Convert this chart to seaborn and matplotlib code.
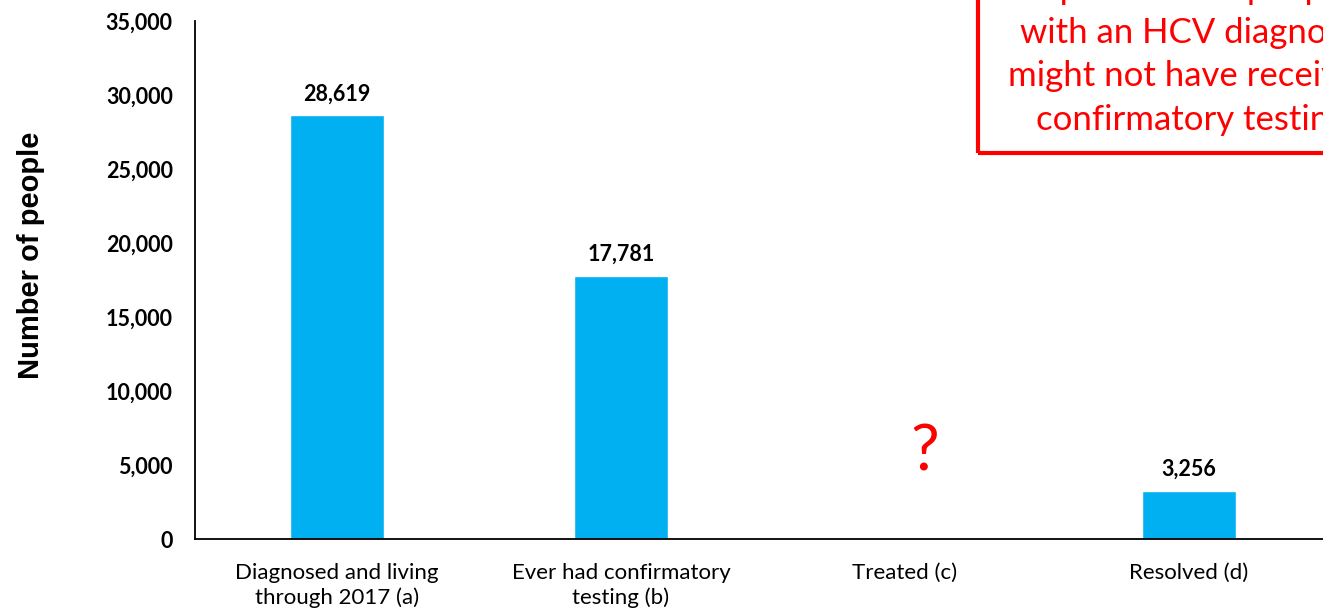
import numpy as np
import pandas as pd
import seaborn as sns
import matplotlib
matplotlib.use('Agg')
import matplotlib.pyplot as plt
from matplotlib.patches import Rectangle
from matplotlib.ticker import FuncFormatter, FixedLocator

categories = ['Diagnosed and living\nthrough 2017 (a)', 'Ever had confirmatory\ntesting (b)',
              'Treated (c)', 'Resolved (d)']
people = [28619, 17781, np.nan, 3256]
y_ticks = [0, 5000, 10000, 15000, 20000, 25000, 30000, 35000]
note_lines = ['Up to 38% of people', 'with an HCV diagnosis',
              'might not have received', 'confirmatory testing']

BLUE = '#00B0F0'
RED = '#FF0000'

sns.set_theme(style='white')
plt.rcParams['font.family'] = ['Lato', 'DejaVu Sans']
plt.rcParams['text.color'] = 'black'
plt.rcParams['axes.labelcolor'] = 'black'
plt.rcParams['xtick.color'] = 'black'
plt.rcParams['ytick.color'] = 'black'

df = pd.DataFrame({'stage': categories, 'people': people})

fig = plt.figure(figsize=(13.23, 6.11), dpi=100)
ax = fig.add_axes([195 / 1323, 1 - 539 / 611, 1136 / 1323, 518 / 611])

sns.barplot(data=df, x='stage', y='people', order=categories, color=BLUE,
            width=0.33, saturation=1, ax=ax)

ax.set_xlim(-0.5, 3.5)
ax.set_ylim(0, 35000)
ax.yaxis.set_major_locator(FixedLocator(y_ticks))
ax.yaxis.set_major_formatter(FuncFormatter(lambda v, p: f'{v:,.0f}'))

ax.tick_params(axis='y', direction='out', length=8, width=1.3, pad=8, labelsize=15.5)
for lab in ax.get_yticklabels():
    lab.set_fontweight('bold')
ax.tick_params(axis='x', which='major', length=0, pad=17, labelsize=16)
for lab in ax.get_xticklabels():
    lab.set_linespacing(1.3)
ax.set_xticks(np.arange(-0.5, 4.0, 1.0), minor=True)
ax.tick_params(axis='x', which='minor', direction='out', length=8, width=1.3)

sns.despine(ax=ax)
for side in ['left', 'bottom']:
    ax.spines[side].set_color('black')
    ax.spines[side].set_linewidth(1.3)

ax.set_xlabel('')
ax.set_ylabel('Number of people', fontsize=21, fontweight='bold',
              family='Liberation Sans')
ax.yaxis.set_label_coords(-0.132, 0.548)

for cont in ax.containers:
    labels = ['' if np.isnan(h) else f'{h:,.0f}' for h in cont.datavalues]
    ax.bar_label(cont, labels=labels, padding=8, fontsize=15.5, fontweight='bold')

ax.text(2.07, 4600, '?', color=RED, fontsize=46, ha='center', va='baseline')

fig.add_artist(Rectangle((978 / 1323, 1 - 153 / 611), 0.5, 0.5, transform=fig.transFigure,
                         fill=False, edgecolor=RED, linewidth=3, clip_on=False))
fig.text(1192 / 1323, 1 - 130 / 611, '\n'.join(note_lines), color=RED, fontsize=25,
         ha='center', va='baseline', multialignment='center', linespacing=1.45)

fig.savefig('out.png', dpi=100)
